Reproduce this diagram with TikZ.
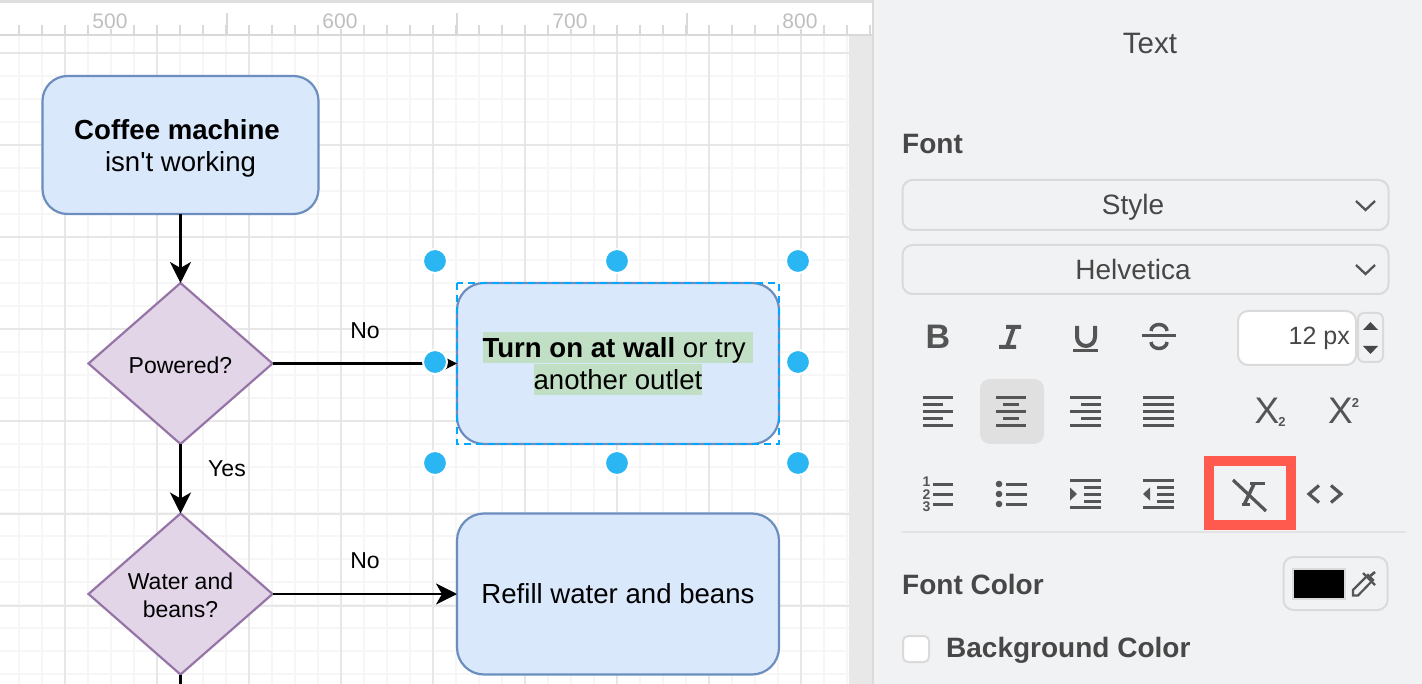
\documentclass[tikz,border=0pt]{standalone}
\usepackage{fontspec}
\setmainfont{Liberation Sans}[Ligatures=TeXOff]
\usetikzlibrary{arrows.meta,shapes.geometric}
\definecolor{blueline}{HTML}{6C8EBF}
\definecolor{bluefill}{HTML}{DAE8FC}
\definecolor{purpleline}{HTML}{9673A6}
\definecolor{purplefill}{HTML}{E1D5E7}
\definecolor{handleblue}{HTML}{29B6F2}
\definecolor{selectblue}{HTML}{00A8FF}
\definecolor{textbg}{HTML}{C1DFC4}
\definecolor{panelbg}{HTML}{F1F2F4}
\definecolor{fieldline}{HTML}{DADADA}
\definecolor{icongray}{HTML}{555555}
\definecolor{marker}{HTML}{FF5A4D}
\definecolor{gridmajor}{HTML}{E7E7E7}
\definecolor{gridminor}{HTML}{F6F6F6}
\newcommand{\hlbox}[1]{\colorbox{textbg}{\rule[-6.2pt]{0pt}{31.7pt}#1}}
\setlength{\fboxsep}{0pt}
\tikzset{
  process/.style={draw=blueline,fill=bluefill,line width=2.2pt,rounded corners=25pt,
    align=center,inner sep=0pt,outer sep=0pt,font=\fontsize{27.6}{32}\selectfont},
  decision/.style={draw=purpleline,fill=purplefill,line width=2.2pt,diamond,
    minimum width=184pt,minimum height=161pt,inner sep=0pt,outer sep=0pt,align=center,
    font=\fontsize{23}{28}\selectfont},
  flow/.style={line width=2.4pt,-{Stealth[length=21pt,width=21pt,inset=6pt]}},
  edgelabel/.style={inner sep=0pt,font=\fontsize{23}{28}\selectfont},
  handle/.style={circle,fill=handleblue,draw=white,line width=2pt,minimum size=24pt,inner sep=0pt},
  rulerlabel/.style={fill=white,inner sep=1pt,text=black!25,font=\fontsize{21}{24}\selectfont},
  field/.style={draw=fieldline,fill=panelbg,line width=2pt,rounded corners=10pt,inner sep=0pt},
  paneltext/.style={inner sep=0pt,text=black!72,font=\fontsize{28}{32}\selectfont},
  panelhead/.style={paneltext,font=\fontsize{28}{32}\selectfont\bfseries},
  icon/.style={draw=icongray,line width=3pt},
  iconthick/.style={draw=icongray,line width=4pt},
  iconfill/.style={fill=icongray},
  icontext/.style={inner sep=0pt,text=icongray}
}
\begin{document}
\begin{tikzpicture}[x=1pt,y=-1pt]
\useasboundingbox (0,0) rectangle (1422,684);
\fill [white] (0,0) rectangle (873,684);
\foreach \x in {19,42,...,849} \draw [gridminor,line width=2pt] (\x,35) -- (\x,684);
\foreach \y in {76,99,...,684} \draw [gridminor,line width=2pt] (0,\y) -- (849,\y);
\foreach \x in {65,157,...,849} \draw [gridmajor,line width=2pt] (\x,35) -- (\x,684);
\foreach \y in {53.5,145.5,...,684} \draw [gridmajor,line width=2pt] (0,\y) -- (849,\y);
\fill [black!9] (849,35) rectangle (872,684);
\fill [black!13] (0,0) rectangle (873,3);
\draw [black!15,line width=1.5pt] (0,35) -- (872,35);
\foreach \x in {19,42,...,872} \draw [black!15,line width=1.5pt] (\x,25) -- (\x,35);
\foreach \x in {227,457,687} \draw [black!15,line width=1.5pt] (\x,13) -- (\x,35);
\node [rulerlabel] (ruler500) at (110,21) {500};
\node [rulerlabel] (ruler600) at (340,21) {600};
\node [rulerlabel] (ruler700) at (570,21) {700};
\node [rulerlabel] (ruler800) at (800,21) {800};
\node [process,minimum width=276pt,minimum height=138pt] (machine) at (180.5,145) {\rule{0pt}{26pt}\textbf{Coffee machine}\kern7pt\\isn't working};
\node [decision] (powered) at (180.5,363.5) {\rule{0pt}{21pt}Powered?};
\node [process,minimum width=322pt,minimum height=161pt,rounded corners=27pt] (outlet) at (618,363.5)
  {\hlbox{\textbf{Turn on at wall} or try\ }\\\hlbox{another outlet}};
\node [decision] (water) at (180.5,594) {\rule{0pt}{19pt}Water and\\beans?};
\node [process,minimum width=322pt,minimum height=161pt,rounded corners=27pt] (refill) at (618,594) {Refill water and beans};
\coordinate (next) at (180.5,684);
\draw [flow] (machine) -- (powered);
\draw [flow] (powered) -- (outlet);
\draw [flow] (powered) -- (water);
\draw [flow] (water) -- (refill);
\draw [line width=2.4pt] (water) -- (next);
\node [edgelabel] (labelno) at (365,331) {No};
\node [edgelabel] (labelyes) at (227,469) {Yes};
\node [edgelabel] (labelnotwo) at (365,561) {No};
\draw [selectblue,line width=2pt,dash pattern=on 7pt off 5pt] (457,283) rectangle (779,444);
\foreach \x/\y in {435/261,617/261,798/261,435/362,798/362,435/463,617/463,798/463}
  \node [handle] at (\x,\y) {};
\fill [panelbg] (873,0) rectangle (1422,684);
\draw [black!14,line width=2pt] (873,0) -- (873,684);
\node [paneltext,font=\fontsize{29.5}{32}\selectfont] (title) at (1150,44) {Text};
\node [panelhead,anchor=west] (fonthead) at (902,144) {Font};
\node [field,minimum width=486pt,minimum height=50pt] (stylebox) at (1145.5,205) {};
\node [paneltext] (styletext) at (1133,207) {Style};
\draw [icon,line width=2.3pt] (1356,201) -- (1365.5,210) -- (1375,201);
\node [field,minimum width=486pt,minimum height=49pt] (familybox) at (1145.5,269.5) {};
\node [paneltext] (familytext) at (1133,269) {Helvetica};
\draw [icon,line width=2.3pt] (1356,265) -- (1365.5,274) -- (1375,265);
\node [icontext,font=\fontsize{34}{34}\selectfont\bfseries] (boldicon) at (938,337) {B};
\draw [iconthick] (1006,327) -- (1021,327) (1014,327) -- (1007,347) (999,347) -- (1016,347);
\draw [iconthick] (1077,326) -- (1077,337) arc (180:0:9 and 9) -- (1095,326);
\draw [icon] (1073,351) -- (1098,351);
\draw [icon] (1142,336) -- (1176,336);
\draw [icon,line width=3.5pt] (1167,331) arc (0:-180:8 and 6.5);
\draw [icon,line width=3.5pt] (1151,342) arc (180:0:8 and 6.5);
\node [draw=none,fill=white,rounded corners=10pt,minimum width=117pt,minimum height=54pt,inner sep=0pt] (sizebox) at (1297,338) {};
\draw [fieldline,line width=2pt,rounded corners=10pt] (1238,311) rectangle (1356,365);
\node [paneltext,anchor=east,font=\fontsize{25}{30}\selectfont] (sizetext) at (1350,338) {12 px};
\draw [fieldline,line width=2pt,rounded corners=6pt] (1358,313) rectangle (1383,362);
\fill [black!72] (1363,330) -- (1370.5,322) -- (1378,330) -- cycle;
\fill [black!72] (1363,346) -- (1370.5,354) -- (1378,346) -- cycle;
\foreach \y/\a in {397.5/953,404.5/943,411.5/953,418.5/943,425.5/953} \draw [icon] (923,\y) -- (\a,\y);
\node [fill=black!12,rounded corners=10pt,minimum width=64pt,minimum height=65pt,inner sep=0pt] (activealign) at (1012,411.5) {};
\foreach \y/\a/\b in {397.5/996/1026,404.5/1003/1019,411.5/996/1026,418.5/1003/1019,425.5/996/1026} \draw [icon] (\a,\y) -- (\b,\y);
\foreach \y/\a in {397.5/1070,404.5/1081,411.5/1070,418.5/1081,425.5/1070} \draw [icon] (\a,\y) -- (1101,\y);
\foreach \y in {397.5,404.5,...,426} \draw [icon] (1143,\y) -- (1174,\y);
\node [icontext,font=\fontsize{37}{37}\selectfont] (subx) at (1267,411) {X};
\node [icontext,font=\fontsize{13}{13}\selectfont\bfseries] (subtwo) at (1282,421.5) {2};
\node [icontext,font=\fontsize{37}{37}\selectfont] (supx) at (1340.5,411) {X};
\node [icontext,font=\fontsize{13}{13}\selectfont\bfseries] (suptwo) at (1355.5,402.5) {2};
\foreach \y/\n in {482/1,494.5/2,506.5/3} \node [icontext,font=\fontsize{14}{14}\selectfont\bfseries] at (926.5,\y) {\n};
\foreach \y in {484,494,504} \draw [icon] (933,\y) -- (953,\y);
\foreach \y in {484,494,504} \fill [icongray] (999,\y) circle (3.3);
\foreach \y in {484,494,504} \draw [icon] (1006,\y) -- (1027,\y);
\foreach \y in {480.5,507.5} \draw [icon] (1070,\y) -- (1101,\y);
\foreach \y in {487,494,501} \draw [icon] (1084,\y) -- (1101,\y);
\fill [icongray] (1070,487.5) -- (1077,494) -- (1070,500.5) -- cycle;
\foreach \y in {480.5,507.5} \draw [icon] (1143,\y) -- (1174,\y);
\foreach \y in {487,494,501} \draw [icon] (1157,\y) -- (1174,\y);
\fill [icongray] (1150,487.5) -- (1143,494) -- (1150,500.5) -- cycle;
\draw [marker,line width=10pt] (1209,461) rectangle (1291,525);
\draw [icon,line width=3.5pt] (1254,484) -- (1244,505);
\draw [icon,line width=3.5pt] (1250,483.5) -- (1264.5,483.5);
\draw [icon,line width=3.5pt] (1241.5,504.5) -- (1250,504.5);
\draw [icon,line width=3.2pt] (1233,480) -- (1266,511);
\draw [icon,line width=3.2pt] (1319,485.5) -- (1309,494) -- (1319,502.5);
\draw [icon,line width=3.2pt] (1331,485.5) -- (1341,494) -- (1331,502.5);
\draw [black!11,line width=2pt] (902,532) -- (1406,532);
\node [panelhead,anchor=west] (colorhead) at (902,584) {Font Color};
\node [field,minimum width=104pt,minimum height=53pt] (colorbox) at (1335.5,583.5) {};
\node [draw=fieldline,fill=black,line width=2pt,minimum width=52pt,minimum height=30pt,inner sep=0pt] (swatch) at (1318.5,583.5) {};
\draw [icon,line width=2.2pt] (1353,595.5) -- (1353,590) -- (1368,575) -- (1373,580) -- (1358,595.5) -- cycle;
\draw [icon,line width=2.2pt] (1363,573) -- (1375,585);
\draw [icon,line width=2.6pt] (1369,577) -- (1375,572);
\node [draw=fieldline,fill=white,line width=2pt,rounded corners=5pt,minimum size=26pt,inner sep=0pt] (checkbox) at (916,649) {};
\node [panelhead,anchor=west] (bghead) at (946,650) {Background Color};
\end{tikzpicture}
\end{document}
